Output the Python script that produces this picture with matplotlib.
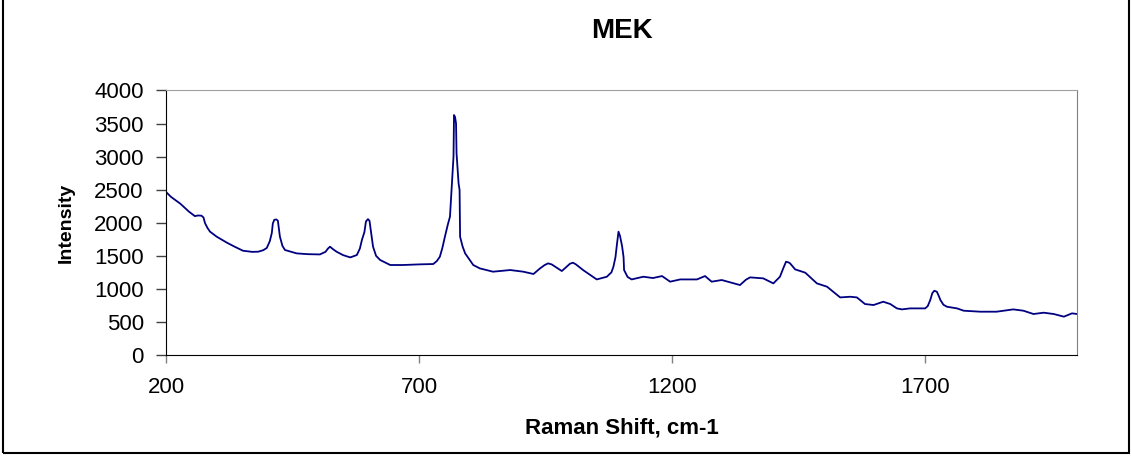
import numpy as np
import matplotlib.pyplot as plt
from matplotlib.patches import Rectangle

# Raman spectrum of MEK
raman_shift = [200, 210, 228, 245, 257, 263, 270, 274, 277, 282, 287, 300, 320, 335, 352,
               370, 382, 392, 399, 405, 409, 411, 414, 418, 421, 423, 425, 430, 435, 458,
               480, 504, 515, 520, 524, 530, 537, 550, 564, 577, 583, 587, 592, 595, 599,
               602, 605, 609, 615, 623, 643, 668, 702, 728, 735, 741, 746, 751, 757, 761,
               765, 768, 769, 771, 773, 774, 778, 780, 781, 786, 791, 807, 820, 846, 880,
               906, 926, 939, 948, 955, 962, 982, 998, 1004, 1010, 1024, 1051, 1071, 1080, 1084,
               1088, 1091, 1094, 1097, 1101, 1104, 1105, 1112, 1120, 1143, 1162, 1180, 1196, 1216, 1249,
               1265, 1278, 1298, 1334, 1346, 1354, 1380, 1400, 1413, 1420, 1425, 1430, 1433, 1443, 1463,
               1486, 1506, 1532, 1552, 1565, 1581, 1598, 1617, 1631, 1644, 1654, 1670, 1700, 1705, 1710,
               1714, 1718, 1723, 1727, 1730, 1736, 1743, 1763, 1776, 1809, 1841, 1874, 1894, 1914, 1934,
               1954, 1974, 1990, 2000]
intensity = [2465, 2390, 2290, 2170, 2100, 2110, 2107, 2080, 1995, 1920, 1865, 1790, 1700, 1640, 1577,
             1560, 1562, 1585, 1618, 1720, 1845, 1990, 2045, 2050, 2030, 1910, 1790, 1650, 1588, 1537,
             1525, 1521, 1560, 1610, 1638, 1600, 1562, 1510, 1476, 1512, 1610, 1739, 1860, 2020, 2055,
             2030, 1860, 1638, 1500, 1437, 1361, 1361, 1371, 1376, 1420, 1486, 1620, 1789, 1980, 2091,
             2596, 2999, 3629, 3600, 3503, 3049, 2596, 2495, 1789, 1640, 1537, 1361, 1310, 1260, 1285,
             1260, 1225, 1310, 1360, 1386, 1370, 1270, 1380, 1396, 1370, 1285, 1143, 1184, 1250, 1336,
             1480, 1680, 1865, 1800, 1650, 1480, 1285, 1180, 1143, 1184, 1164, 1194, 1109, 1143, 1143,
             1194, 1109, 1134, 1058, 1140, 1174, 1159, 1083, 1184, 1320, 1411, 1400, 1386, 1295, 1245,
             1083, 1033, 871, 881, 871, 771, 756, 806, 771, 705, 690, 705, 705, 740, 832,
             935, 972, 957, 890, 832, 760, 730, 705, 670, 655, 655, 690, 670, 620, 640,
             620, 580, 630, 620]

xticks = [200, 700, 1200, 1700]
yticks = np.arange(0, 4001, 500)

plt.rcParams['font.family'] = ['Liberation Sans', 'DejaVu Sans']

fig = plt.figure(figsize=(11.31, 4.61), dpi=100)
ax = fig.add_axes([0.1468, 0.2299, 0.8055, 0.5738])

ax.plot(raman_shift, intensity, color='#000080', linewidth=1.3)

ax.set_xlim(200, 2000)
ax.set_ylim(0, 4000)
ax.set_xticks(xticks)
ax.set_yticks(yticks)
ax.tick_params(axis='x', direction='out', length=6, width=1, color='#808080', pad=10, labelsize=16)
ax.tick_params(axis='y', direction='out', length=7, width=1, color='#404040', pad=9, labelsize=16)

ax.spines['top'].set_color('#a0a0a0')
ax.spines['right'].set_color('#808080')
ax.spines['left'].set_color('black')
ax.spines['bottom'].set_color('black')

ax.set_title('MEK', fontsize=20, fontweight='bold', pad=38)
ax.set_xlabel('Raman Shift, cm-1', fontsize=16, fontweight='bold', labelpad=14)
ax.set_ylabel('Intensity', fontsize=14, fontweight='bold', labelpad=14)

# outer chart frame
fig.patches.append(Rectangle((3 / 1131, 8 / 461), 1126 / 1131, 1.0, transform=fig.transFigure,
                             fill=False, edgecolor='black', linewidth=1.5))

plt.savefig('out.png', dpi=100)
